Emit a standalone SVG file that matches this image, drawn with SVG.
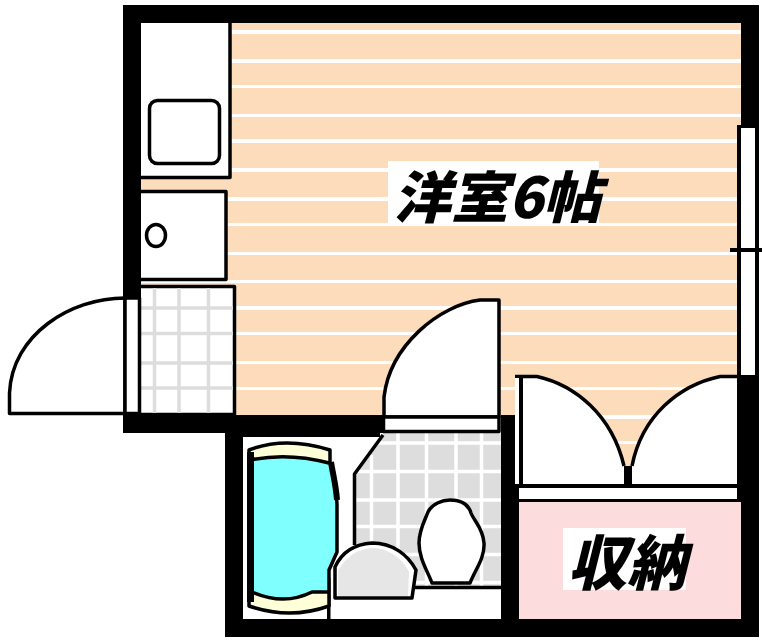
<svg xmlns="http://www.w3.org/2000/svg" width="762" height="644" viewBox="0 0 762 644">
<style>
.wall{fill:#000}
.band{fill:#fff}
.tile{fill:#ddd}
.ln{fill:none;stroke:#000;stroke-width:3.500;stroke-linejoin:round}
.w{fill:#fff;stroke:#000;stroke-width:3.500;stroke-linejoin:round}
.gl{stroke:#ddd;stroke-width:3.500}
.wl{stroke:#fff;stroke-width:3.500}
.lab{font-family:"Noto Sans CJK JP","Liberation Sans",sans-serif;font-weight:900;fill:#000}
</style>
<rect width="762" height="644" fill="#fff"/>
<g id="room">
<rect x="141" y="23" width="600" height="392" fill="#fddcbc"/>
<rect x="515" y="375" width="222" height="100" fill="#fddcbc"/>
<g class="band">
<rect x="141" y="30" width="600" height="4"/><rect x="141" y="59" width="600" height="4"/><rect x="141" y="85" width="600" height="3"/><rect x="141" y="114" width="600" height="3"/><rect x="141" y="139" width="600" height="4"/><rect x="141" y="168" width="600" height="4"/><rect x="141" y="197" width="600" height="4"/><rect x="141" y="223" width="600" height="3"/><rect x="141" y="252" width="600" height="3"/><rect x="141" y="280" width="600" height="3"/><rect x="141" y="306" width="600" height="4"/><rect x="141" y="332" width="600" height="3"/><rect x="141" y="361" width="600" height="3"/><rect x="141" y="387" width="600" height="3"/><rect x="515" y="415" width="222" height="4"/><rect x="515" y="441" width="222" height="3"/>
</g>
</g>
<g id="kitchen">
<rect class="w" x="139" y="21" width="91" height="156.500"/>
<rect class="ln" x="149.500" y="100.500" width="70" height="63" rx="8"/>
</g>
<g id="fridge">
<rect class="w" x="139" y="191.500" width="87" height="88"/>
<ellipse class="ln" cx="156" cy="235.500" rx="9.500" ry="11"/>
</g>
<g id="genkan">
<rect class="w" x="139" y="286.500" width="95.500" height="128"/>
<g class="gl"><path d="M154.500 288V413M179 288V413M208.500 288V413M141 308H233M141 333.500H233M141 363H233M141 388H233"/></g>
<path class="w" d="M125 298C70 298 12 335 9.500 393V413.500H125Z"/>
<rect class="w" x="125" y="298" width="14.500" height="115.500"/>
</g>
<g id="wc">
<path class="tile" d="M383 433H501V587H355V473Z"/>
<g class="wl"><path d="M371.500 455V587M398 433V587M426.500 433V587M456 433V587M481.500 433V587M365 443H501M355 471.500H501M355 500H501M355 526.500H501M355 554.500H501M355 582.500H501"/></g>
<path d="M327 587H501V619H327Z" fill="#fff"/>
<path class="ln" d="M383 435L354.500 474V545"/>
<path class="ln" d="M415 587.500H501"/>
<path class="w" d="M432 583C427 570 419 558 419 543C419 530 425 520 428 512C432 504 442 500 450 500C460 500 468 503 471 513C474 521 483 528 484 543C485 558 475 570 470 583Z"/>
<path class="w" d="M335 598V567C342 552 354 544 372 543C393 543 408 555 416 570L412 598Z"/>
<path d="M338 571C346 556 358 549 372 548C388 548 402 558 409 572L408 596H338Z" fill="#e6e6e6"/>
<rect class="wall" x="327" y="578" width="3.500" height="41"/>
</g>
<g id="bath">
<path d="M249 450Q285 436 330 450V462H249ZM249 592H329V606Q290 620 249 606Z" fill="#ffffd8"/>
<path d="M252 460Q285 452 330 462C334 480 337 490 337 505V552L329 570V592H312Q285 606 253 592Z" fill="#80ffff"/>
<path class="ln" d="M330 462C334 478 337 490 337 505V552L329 570V606Q290 620 249 606V450Q285 436 330 450V462"/>
<path class="ln" d="M250 460Q288 452 329 463"/>
<path class="ln" d="M252 592Q284 606 312 592H328"/>
<rect class="wall" x="247" y="452" width="7" height="150"/>
<path class="ln" d="M331 462C333 475 336 485 337 500" style="stroke-width:6"/>
</g>
<g id="wc-door">
<path class="w" d="M499 300H480C440 305 390 345 384 397V417H499Z"/>
<rect class="w" x="383.500" y="417" width="115.500" height="14.500"/>
</g>
<g id="closet-doors">
<path d="M517 376.500H537C575 385 612 415 624 466V486H521Z" fill="#fff"/>
<path class="ln" d="M515 376.500H537C575 385 612 415 624 466"/>
<path d="M739 376.500H720C680 385 642 415 632 466V486H739Z" fill="#fff"/>
<path class="ln" d="M737 376.500H720C680 385 642 415 632 466"/>
<rect x="515" y="378" width="4" height="106" fill="#fff"/>
<rect class="wall" x="519" y="376" width="4" height="108"/>
<rect class="wall" x="624" y="466" width="8" height="18"/>
<rect class="wall" x="501" y="484" width="258" height="4"/>
<rect x="523" y="488" width="214" height="11" fill="#fff"/>
</g>
<g id="closet">
<rect class="wall" x="519" y="499" width="222" height="3"/>
<rect x="519" y="502" width="222" height="117" fill="#fcdcdc"/>
<rect x="563" y="528" width="123" height="62" fill="#fff"/>
<text class="lab" transform="translate(568 585) skewX(-14)" font-size="60" textLength="118" lengthAdjust="spacingAndGlyphs">収納</text>
</g>
<g id="walls">
<rect class="wall" x="123" y="5" width="636" height="18"/>
<rect class="wall" x="123" y="5" width="18" height="293"/>
<rect class="wall" x="741" y="5" width="18" height="120"/>
<rect class="wall" x="755" y="125" width="4" height="250"/>
<rect class="wall" x="737" y="125" width="4" height="251"/>
<rect class="wall" x="741" y="125" width="14" height="3"/>
<rect class="wall" x="730" y="248" width="32" height="4"/>
<rect class="wall" x="741" y="375" width="18" height="262"/>
<rect class="wall" x="737" y="375" width="4" height="127"/>
<rect class="wall" x="123" y="415" width="260" height="18"/>
<rect class="wall" x="225" y="433" width="155" height="4"/>
<rect class="wall" x="225" y="433" width="18" height="204"/>
<rect class="wall" x="225" y="619" width="534" height="18"/>
<rect class="wall" x="501" y="415" width="14" height="222"/>
<rect class="wall" x="515" y="484" width="4" height="135"/>
</g>
<g id="label-room">
<rect x="388" y="161" width="211" height="62" fill="#fff"/>
<text class="lab" transform="translate(393 218) skewX(-14)" font-size="56" textLength="208" lengthAdjust="spacingAndGlyphs">洋室6帖</text>
</g>
</svg>
